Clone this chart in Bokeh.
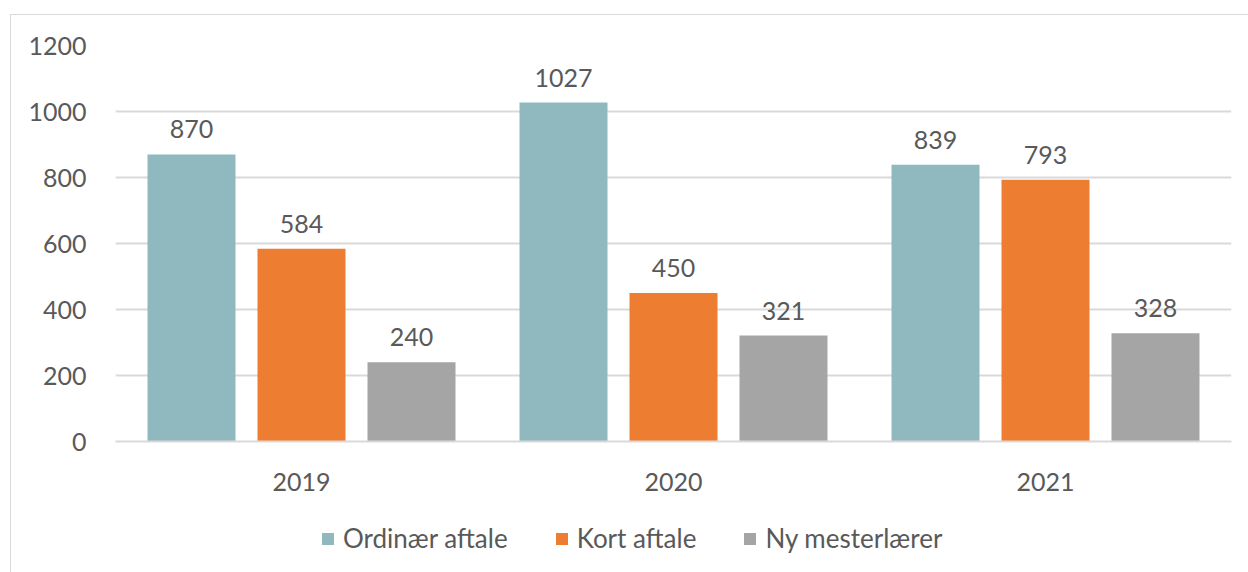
from bokeh.plotting import figure
from bokeh.layouts import column
from bokeh.models import FactorRange, Range1d, Legend, LegendItem, ColumnDataSource, FixedTicker
from bokeh.transform import dodge
from bokeh.core.properties import value
from bokeh.embed import file_html
from bokeh.resources import INLINE

years = ["2019", "2020", "2021"]
series = ["Ordinær aftale", "Kort aftale", "Ny mesterlærer"]
ordinaer = [870, 1027, 839]
kort = [584, 450, 793]
ny_mester = [240, 321, 328]
colors = ["#90B9BF", "#ED7D31", "#A5A5A5"]
y_ticks = [0, 200, 400, 600, 800, 1000, 1200]

FONT = "Lato"
FS = "25px"
TXT = "#595959"
GRID = "#D9D9D9"

src = ColumnDataSource(dict(
    years=years,
    s0=ordinaer, s1=kort, s2=ny_mester,
    l0=[str(v) for v in ordinaer],
    l1=[str(v) for v in kort],
    l2=[str(v) for v in ny_mester],
))

xr = FactorRange(*years, range_padding=0)
p = figure(
    x_range=xr,
    y_range=Range1d(0, 1200),
    width=1237, height=497,
    output_backend="svg", toolbar_location=None,
    min_border_left=104, min_border_right=17,
    min_border_top=30, min_border_bottom=71,
)
p.outline_line_color = None

step = 110 / 372
bw = 88 / 372
for k in range(3):
    off = (k - 1) * step
    p.vbar(x=dodge("years", off, range=xr), top=f"s{k}", width=bw,
           source=src, fill_color=colors[k], line_color=None)
    p.text(x=dodge("years", off, range=xr), y=f"s{k}", text=f"l{k}",
           source=src, y_offset=-16, text_align="center", text_baseline="bottom",
           text_font=value(FONT), text_font_size=FS, text_color=TXT)

p.yaxis.ticker = FixedTicker(ticks=y_ticks)
p.yaxis.axis_line_color = None
p.yaxis.major_tick_line_color = None
p.yaxis.minor_tick_line_color = None
p.yaxis.major_label_standoff = 23
p.yaxis.major_label_text_font = FONT
p.yaxis.major_label_text_font_size = FS
p.yaxis.major_label_text_color = TXT

p.xaxis.axis_line_color = GRID
p.xaxis.axis_line_width = 2
p.xaxis.major_tick_line_color = None
p.xaxis.minor_tick_line_color = None
p.xaxis.major_label_standoff = 25
p.xaxis.major_label_text_font = FONT
p.xaxis.major_label_text_font_size = FS
p.xaxis.major_label_text_color = TXT

p.xgrid.grid_line_color = None
p.ygrid.grid_line_color = GRID
p.ygrid.grid_line_width = 2

# legend strip below the chart (zero-width bars: only the legend swatches show)
lg = figure(width=1237, height=60, x_range=xr, y_range=Range1d(0, 1200),
            output_backend="svg", toolbar_location=None, min_border=0)
lg.axis.visible = False
lg.grid.visible = False
lg.outline_line_color = None
items = []
for k in range(3):
    r = lg.vbar(x="years", top=f"s{k}", width=0, source=src,
                fill_color=colors[k], line_color=None)
    items.append(LegendItem(label=series[k], renderers=[r]))
legend = Legend(items=items, orientation="horizontal", location=(205, 18),
                glyph_width=15, glyph_height=15, label_standoff=8, spacing=46,
                label_text_font=FONT, label_text_font_size="26px", label_text_color=TXT,
                border_line_color=None, background_fill_alpha=0, margin=0, padding=0)
lg.add_layout(legend)

layout = column(p, lg, spacing=0)
layout.styles = {"border-left": "1px solid #D9D9D9", "border-top": "1px solid #D9D9D9",
                 "margin-left": "10px", "margin-top": "14px"}

open("out.html", "w").write(file_html(layout, INLINE))
